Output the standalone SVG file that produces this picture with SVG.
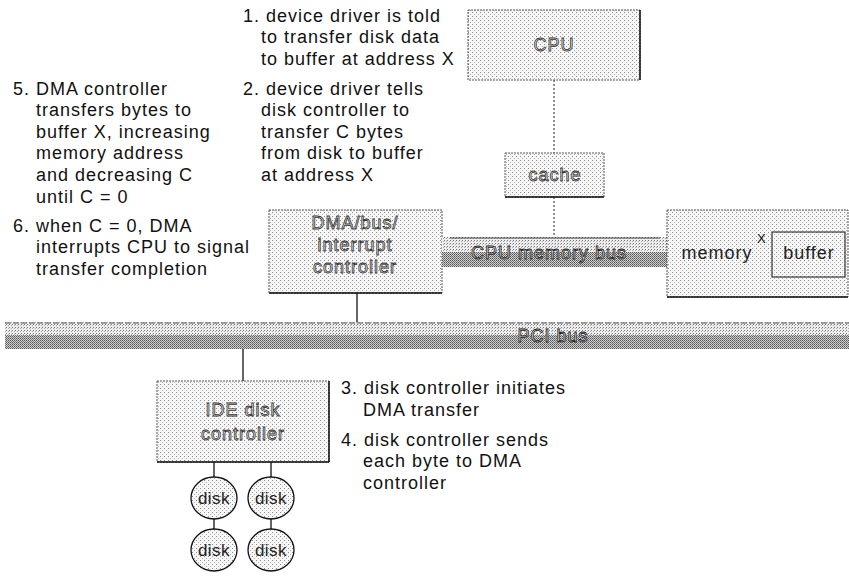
<svg xmlns="http://www.w3.org/2000/svg" width="849" height="576" viewBox="0 0 849 576">
<defs>
<pattern id="light" width="4" height="4" patternUnits="userSpaceOnUse">
<rect width="4" height="4" fill="#f7f7f7"/>
<rect x="0" y="0" width="1" height="1" fill="#8a8a8a"/>
<rect x="2" y="2" width="1" height="1" fill="#b0b0b0"/>
</pattern>
<pattern id="mid" width="3" height="3" patternUnits="userSpaceOnUse">
<rect width="3" height="3" fill="#eeeeee"/>
<rect x="0" y="0" width="1" height="1" fill="#777"/>
<rect x="2" y="1" width="1" height="1" fill="#aaa"/>
</pattern>
<pattern id="dense" width="2" height="2" patternUnits="userSpaceOnUse">
<rect width="2" height="2" fill="#d0d0d0"/>
<rect x="0" y="0" width="1" height="1" fill="#555"/>
<rect x="1" y="1" width="1" height="1" fill="#777"/>
</pattern>
</defs>
<style>
text{font-family:"Liberation Sans",Arial,sans-serif;font-size:18px;letter-spacing:1px;fill:#111}
.lbl{text-anchor:middle;fill:#f4f4f4;stroke:#333;stroke-width:0.8}
.lbld{text-anchor:middle;fill:#222}
.box{fill:url(#light);stroke:#555;stroke-width:1;stroke-dasharray:2 1}
.edge{stroke:#111;stroke-width:1.5;fill:none}
.conn{stroke:#111;stroke-width:1.3;fill:none}
.dot{stroke:#444;stroke-width:1.2;stroke-dasharray:2 2;fill:none}
.disk{fill:url(#light);stroke:#111;stroke-width:1.3}
</style>

<g id="connectors">
<line class="dot" x1="554" y1="80" x2="554" y2="153"/>
<line class="dot" x1="554" y1="197" x2="554" y2="237"/>
<line class="conn" x1="357" y1="293" x2="357" y2="322"/>
<line class="conn" x1="243" y1="349" x2="243" y2="381"/>
<line class="conn" x1="214" y1="462" x2="214" y2="477"/>
<line class="conn" x1="271" y1="462" x2="271" y2="477"/>
<line class="conn" x1="214" y1="519" x2="214" y2="529"/>
<line class="conn" x1="271" y1="519" x2="271" y2="529"/>
</g>

<g id="cpu">
<rect class="box" x="468" y="10" width="172" height="70"/>
<line class="edge" x1="640" y1="10" x2="640" y2="80"/>
<text class="lbl" x="554" y="51">CPU</text>
</g>

<g id="cache">
<rect class="box" x="505" y="153" width="99" height="44"/>
<line class="edge" x1="505" y1="197" x2="604" y2="197"/>
<text class="lbl" x="555" y="181">cache</text>
</g>

<g id="dma">
<rect class="box" x="269" y="210" width="173" height="83"/>
<line class="edge" x1="269" y1="293" x2="442" y2="293"/>
<text class="lbl" x="355" y="229">DMA/bus/</text>
<text class="lbl" x="355" y="251">interrupt</text>
<text class="lbl" x="355" y="273">controller</text>
</g>

<g id="cpu-memory-bus">
<rect x="442" y="237" width="225" height="15" fill="url(#mid)"/>
<rect x="442" y="252" width="225" height="15" fill="url(#dense)"/>
<line x1="450" y1="238" x2="660" y2="238" stroke="#444" stroke-width="1"/>
<text class="lbl" x="549" y="259" style="fill:#eee;stroke:#222">CPU memory bus</text>
</g>

<g id="memory">
<rect class="box" x="667" y="210" width="181" height="87"/>
<line class="edge" x1="667" y1="297" x2="848" y2="297"/>
<text class="lbld" x="717" y="259">memory</text>
<text x="757" y="243" style="font-size:13px">X</text>
</g>

<g id="buffer">
<rect x="772" y="232" width="73" height="45" fill="url(#light)" stroke="#333" stroke-width="1.2"/>
<text class="lbld" x="809" y="259">buffer</text>
</g>

<g id="pci-bus">
<rect x="5" y="322" width="844" height="13" fill="url(#mid)"/>
<rect x="5" y="335" width="844" height="14" fill="url(#dense)"/>
<line x1="5" y1="323" x2="849" y2="323" stroke="#555" stroke-width="1" stroke-dasharray="6 2"/>
<text class="lbl" x="553" y="342" style="fill:#eee;stroke:#222">PCI bus</text>
</g>

<g id="ide">
<rect class="box" x="157" y="381" width="172" height="81"/>
<line class="edge" x1="329" y1="381" x2="329" y2="462"/>
<line class="edge" x1="157" y1="462" x2="329" y2="462"/>
<text class="lbl" x="243" y="416">IDE disk</text>
<text class="lbl" x="243" y="440">controller</text>
</g>

<g id="disk1"><ellipse class="disk" cx="214" cy="498" rx="23" ry="21"/><text class="lbld" x="214" y="504" style="font-size:17px;letter-spacing:0.5px">disk</text></g>
<g id="disk2"><ellipse class="disk" cx="271" cy="498" rx="23" ry="21"/><text class="lbld" x="271" y="504" style="font-size:17px;letter-spacing:0.5px">disk</text></g>
<g id="disk3"><ellipse class="disk" cx="214" cy="550" rx="23" ry="21"/><text class="lbld" x="214" y="556" style="font-size:17px;letter-spacing:0.5px">disk</text></g>
<g id="disk4"><ellipse class="disk" cx="271" cy="550" rx="23" ry="21"/><text class="lbld" x="271" y="556" style="font-size:17px;letter-spacing:0.5px">disk</text></g>

<g id="notes-1-2">
<text x="243" y="22">1. device driver is told</text>
<text x="261" y="43">to transfer disk data</text>
<text x="261" y="65">to buffer at address X</text>
<text x="243" y="95">2. device driver tells</text>
<text x="261" y="116">disk controller to</text>
<text x="261" y="138">transfer C bytes</text>
<text x="261" y="159">from disk to buffer</text>
<text x="261" y="181">at address X</text>
</g>

<g id="notes-5-6">
<text x="13" y="95">5. DMA controller</text>
<text x="36" y="116">transfers bytes to</text>
<text x="36" y="138">buffer X, increasing</text>
<text x="36" y="159">memory address</text>
<text x="36" y="181">and decreasing C</text>
<text x="36" y="203">until C = 0</text>
<text x="13" y="232">6. when C = 0, DMA</text>
<text x="36" y="253">interrupts CPU to signal</text>
<text x="36" y="275">transfer completion</text>
</g>

<g id="notes-3-4">
<text x="341" y="394">3. disk controller initiates</text>
<text x="363" y="416">DMA transfer</text>
<text x="341" y="446">4. disk controller sends</text>
<text x="363" y="467">each byte to DMA</text>
<text x="363" y="489">controller</text>
</g>
</svg>
